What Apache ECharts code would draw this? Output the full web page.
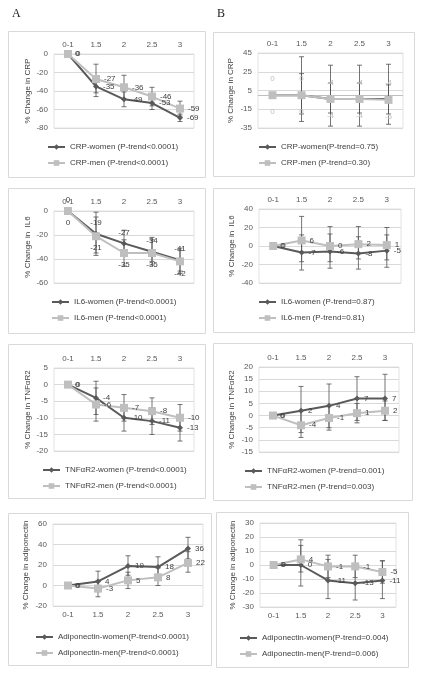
<!DOCTYPE html>
<html><head><meta charset="utf-8">
<script src="https://cdn.jsdelivr.net/npm/echarts@6/dist/echarts.min.js"></script>
<style>html,body{margin:0;padding:0;background:#fff}#c{width:422px;height:675px}</style>
</head><body><div id="c"></div>
<script>
const categories = ['0-1', '1.5', '2', '2.5', '3'];

// ----- Panel A -----
const crpWomenA = [0, -35, -49, -53, -69];
const crpWomenACI = [[0, 0], [-46, -24], [-57, -41], [-60, -46], [-73, -65]];
const crpMenA = [0, -27, -36, -46, -59];
const crpMenACI = [[0, 0], [-42, -11], [-49, -23], [-56, -36], [-67, -51]];

const il6WomenA = [0, -19, -27, -34, -41];
const il6WomenACI = [[0, 0], [-35, -1], [-36, -16], [-42, -22], [-50, -31]];
const il6MenA = [0, -21, -35, -35, -42];
const il6MenACI = [[0, 0], [-37, -5], [-46, -24], [-45, -24], [-52, -33]];

const tnfWomenA = [0, -4, -10, -11, -13];
const tnfWomenACI = [[0, 0], [-9, 1], [-14, -6], [-15, -7], [-17, -9]];
const tnfMenA = [0, -6, -7, -8, -10];
const tnfMenACI = [[0, 0], [-11, -1], [-11, -3], [-12, -4], [-14, -6]];

const adipoWomenA = [0, 4, 19, 18, 36];
const adipoWomenACI = [[0, 0], [-6, 14], [10, 29], [9, 28], [26, 47]];
const adipoMenA = [0, -3, 5, 8, 22];
const adipoMenACI = [[0, 0], [-11, 5], [-3, 13], [0, 17], [13, 33]];

// ----- Panel B -----
const crpWomenB = [0, 0, -4, -4, -4];
const crpWomenBCI = [[0, 0], [-20, 23], [-19, 13], [-19, 13], [-20, 11]];
const crpMenB = [0, 0, -4, -4, -5];
const crpMenBCI = [[0, 0], [-28, 41], [-33, 32], [-33, 32], [-31, 33]];

const il6WomenB = [0, -7, -6, -8, -5];
const il6WomenBCI = [[0, 0], [-26, 12], [-24, 13], [-25, 10], [-23, 12]];
const il6MenB = [0, 6, 0, 2, 1];
const il6MenBCI = [[0, 0], [-17, 32], [-17, 21], [-14, 21], [-15, 20]];

const tnfWomenB = [0, 2, 4, 7, 7];
const tnfWomenBCI = [[0, 0], [-7, 12], [-5, 13], [-2, 16], [-2, 17]];
const tnfMenB = [0, -4, -1, 1, 2];
const tnfMenBCI = [[0, 0], [-9, 2], [-6, 4], [-3, 5], [-2, 6]];

const adipoWomenB = [0, 0, -11, -13, -11];
const adipoWomenBCI = [[0, 0], [-15, 14], [-24, 4], [-25, -1], [-24, 3]];
const adipoMenB = [0, 4, -1, -1, -5];
const adipoMenBCI = [[0, 0], [-5, 18], [-9, 7], [-9, 7], [-13, 3]];

// tick settings [min, max, interval]
const ticksA = [[-80, 0, 20], [-60, 0, 20], [-20, 5, 5], [-20, 60, 20]];
const ticksB = [[-35, 45, 20], [-40, 40, 20], [-15, 20, 5], [-30, 30, 10]];

const FONT = '"Liberation Sans", Arial, sans-serif';
const DARK = '#5a5a5a', LIGHT = '#bfbfbf', LBL = '#404040';

const panels = [
  { grid: {left: 54, top: 54, width: 140, height: 74}, t: ticksA[0], xpos: 'top', yname: '% Change in CRP', gap: 22,
    w: {name: 'CRP-women (P-trend<0.0001)', d: crpWomenA, ci: crpWomenACI, pos: 'right'},
    m: {name: 'CRP-men (P-trend<0.0001)', d: crpMenA, ci: crpMenACI, pos: 'right'},
    legend: {left: 47, top: 143}, box: [8, 31, 197, 146] },
  { grid: {left: 54, top: 211, width: 140, height: 72}, t: ticksA[1], xpos: 'top', yname: '% Change in  IL6', gap: 22,
    w: {name: 'IL6-women (P-trend<0.0001)', d: il6WomenA, ci: il6WomenACI, pos: 'top'},
    m: {name: 'IL6-men (P-trend<0.0001)', d: il6MenA, ci: il6MenACI, pos: 'bottom'},
    legend: {left: 51, top: 298}, box: [8, 188, 197, 145] },
  { grid: {left: 54, top: 368, width: 140, height: 83}, t: ticksA[2], xpos: 'top', yname: '% Change in TNFαR2', gap: 22,
    w: {name: 'TNFαR2-women (P-trend<0.0001)', d: tnfWomenA, ci: tnfWomenACI, pos: 'right'},
    m: {name: 'TNFαR2-men (P-trend<0.0001)', d: tnfMenA, ci: tnfMenACI, pos: 'right'},
    legend: {left: 42, top: 466}, box: [8, 344, 197, 154] },
  { grid: {left: 53, top: 524, width: 150, height: 82}, t: ticksA[3], xpos: 'bottom', yname: '% Change in adiponectin', gap: 23,
    w: {name: 'Adiponectin-women(P-trend<0.0001)', d: adipoWomenA, ci: adipoWomenACI, pos: 'right'},
    m: {name: 'Adiponectin-men(P-trend<0.0001)', d: adipoMenA, ci: adipoMenACI, pos: 'right'},
    legend: {left: 35, top: 633}, box: [8, 513, 203, 152] },
  { grid: {left: 258, top: 53, width: 145, height: 75}, t: ticksB[0], xpos: 'top', yname: '% Change in CRP', gap: 23, zeroLine: true,
    w: {name: 'CRP-women(P-trend=0.75)', d: crpWomenB, ci: crpWomenBCI, pos: 'top', dist: 9, color: LIGHT},
    m: {name: 'CRP-men (P-trend=0.30)', d: crpMenB, ci: crpMenBCI, pos: 'bottom', dist: 9, color: LIGHT},
    legend: {left: 258, top: 143}, box: [213, 32, 201, 144] },
  { grid: {left: 259, top: 209, width: 142, height: 74}, t: ticksB[1], xpos: 'top', yname: '% Change in  IL6', gap: 23,
    w: {name: 'IL6-women (P-trend=0.87)', d: il6WomenB, ci: il6WomenBCI, pos: 'right'},
    m: {name: 'IL6-men (P-trend=0.81)', d: il6MenB, ci: il6MenBCI, pos: 'right'},
    legend: {left: 258, top: 298}, box: [213, 188, 201, 144] },
  { grid: {left: 259, top: 367, width: 140, height: 85}, t: ticksB[2], xpos: 'top', yname: '% Change in TNFαR2', gap: 23,
    w: {name: 'TNFαR2-women (P-trend=0.001)', d: tnfWomenB, ci: tnfWomenBCI, pos: 'right'},
    m: {name: 'TNFαR2-men (P-trend=0.003)', d: tnfMenB, ci: tnfMenBCI, pos: 'right'},
    legend: {left: 244, top: 467}, box: [213, 343, 199, 157] },
  { grid: {left: 260, top: 523, width: 136, height: 84}, t: ticksB[3], xpos: 'bottom', yname: '% Change in adiponectin', gap: 23,
    w: {name: 'Adiponectin-women(P-trend=0.004)', d: adipoWomenB, ci: adipoWomenBCI, pos: 'right'},
    m: {name: 'Adiponectin-men(P-trend=0.006)', d: adipoMenB, ci: adipoMenBCI, pos: 'right'},
    legend: {left: 239, top: 634}, box: [216, 512, 192, 155] }
];

function errSeries(ci, idx) {
  return {
    type: 'custom', xAxisIndex: idx, yAxisIndex: idx, z: 1, silent: true,
    data: ci.map((d, i) => [i, d[0], d[1]]),
    encode: {x: 0, y: [1, 2]},
    renderItem: function (params, api) {
      const lo = api.coord([api.value(0), api.value(1)]);
      const hi = api.coord([api.value(0), api.value(2)]);
      if (Math.abs(lo[1] - hi[1]) < 0.5) return null;
      const cw = 2.5, st = {stroke: '#505050', lineWidth: 0.8};
      return {type: 'group', children: [
        {type: 'line', shape: {x1: lo[0], y1: lo[1], x2: hi[0], y2: hi[1]}, style: st},
        {type: 'line', shape: {x1: lo[0] - cw, y1: lo[1], x2: lo[0] + cw, y2: lo[1]}, style: st},
        {type: 'line', shape: {x1: hi[0] - cw, y1: hi[1], x2: hi[0] + cw, y2: hi[1]}, style: st}
      ]};
    }
  };
}

function lineSeries(s, idx, isWomen) {
  return {
    type: 'line', name: s.name, xAxisIndex: idx, yAxisIndex: idx, z: 3,
    data: s.d,
    symbol: isWomen ? 'diamond' : 'rect',
    symbolSize: isWomen ? 6 : 8,
    showAllSymbol: true,
    itemStyle: {color: isWomen ? DARK : LIGHT},
    lineStyle: {color: isWomen ? DARK : LIGHT, width: 2},
    animation: false,
    label: {show: true, position: s.pos, distance: s.dist || 4, fontSize: 8, fontFamily: FONT, color: s.color || LBL}
  };
}

const option = {
  animation: false,
  grid: [], xAxis: [], yAxis: [], series: [], legend: [],
  graphic: [
    {type: 'text', left: 12, top: 8, style: {text: 'A', font: '12px "Liberation Serif", serif', fill: '#222'}},
    {type: 'text', left: 217, top: 8, style: {text: 'B', font: '12px "Liberation Serif", serif', fill: '#222'}}
  ]
};

panels.forEach((p, i) => {
  option.graphic.push({type: 'rect', z: -1, shape: {x: p.box[0] + 0.5, y: p.box[1] + 0.5, width: p.box[2], height: p.box[3]},
    style: {fill: 'none', stroke: '#d9d9d9', lineWidth: 1}});
  option.grid.push(Object.assign({show: true, borderColor: '#e2e2e2', borderWidth: 1, backgroundColor: 'transparent'}, p.grid));
  option.xAxis.push({
    type: 'category', gridIndex: i, data: categories, position: p.xpos, boundaryGap: true,
    axisLine: {show: false, onZero: false}, axisTick: {show: false},
    axisLabel: {fontSize: 8, fontFamily: FONT, color: '#595959', margin: 5}
  });
  option.yAxis.push({
    type: 'value', gridIndex: i, min: p.t[0], max: p.t[1], interval: p.t[2],
    axisLine: {show: false}, axisTick: {show: false},
    splitLine: {lineStyle: {color: '#d9d9d9', width: 1}},
    axisLabel: {fontSize: 8, fontFamily: FONT, color: '#595959', margin: 6},
    name: p.yname, nameLocation: 'middle', nameGap: p.gap, nameRotate: 90,
    nameTextStyle: {fontSize: 8, fontFamily: FONT, color: '#404040'}
  });
  option.series.push(errSeries(p.w.ci, i));
  option.series.push(errSeries(p.m.ci, i));
  const ws = lineSeries(p.w, i, true);
  if (p.zeroLine) {
    ws.markLine = {silent: true, symbol: 'none', label: {show: false},
      lineStyle: {color: '#bfbfbf', type: 'solid', width: 1}, data: [{yAxis: 0}], z: 0};
  }
  option.series.push(ws);
  option.series.push(lineSeries(p.m, i, false));
  option.legend.push({
    orient: 'vertical', left: p.legend.left, top: p.legend.top, padding: 0,
    data: [p.w.name, p.m.name], itemWidth: 17, itemHeight: 7, itemGap: 8,
    textStyle: {fontSize: 8, fontFamily: FONT, color: '#404040'}, selectedMode: false
  });
});

const chart = echarts.init(document.getElementById('c'), null, {renderer: 'canvas'});
chart.setOption(option);
</script></body></html>
